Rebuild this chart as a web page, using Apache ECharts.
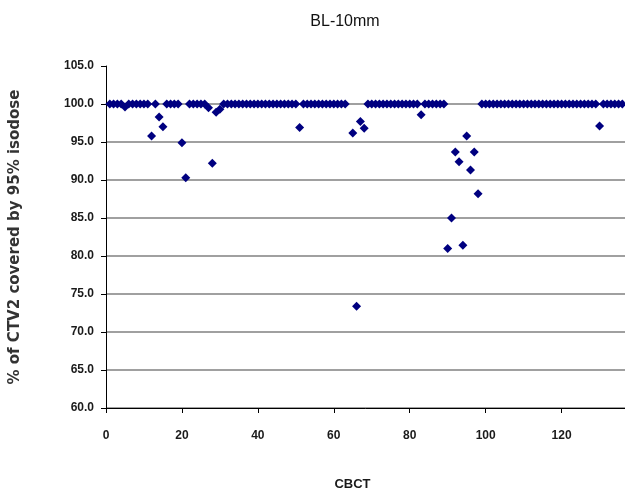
<!DOCTYPE html>
<html>
<head>
<meta charset="utf-8">
<script src="https://cdn.jsdelivr.net/npm/echarts@6/dist/echarts.min.js"></script>
<style>
html,body{margin:0;padding:0;background:#fff;}
#c{width:625px;height:488px;}
</style>
</head>
<body>
<div id="c"></div>
<script>
// CBCT fraction numbers (x) and % of CTV2 covered by 95% isodose (y)
const cbct = [
  1,2,3,4,5,6,7,8,9,10,11,12,13,14,15,16,17,18,19,20,
  21,22,23,24,25,26,27,28,29,30,31,32,33,34,35,36,37,38,39,40,
  41,42,43,44,45,46,47,48,49,50,51,52,53,54,55,56,57,58,59,60,
  61,62,63,65,66,67,68,69,70,71,72,73,74,75,76,77,78,79,80,
  81,82,83,84,85,86,87,88,89,90,91,92,93,94,95,96,97,98,99,100,
  101,102,103,104,105,106,107,108,109,110,111,112,113,114,115,116,117,118,119,120,
  121,122,123,124,125,126,127,128,129,130,131,132,133,134,135,136
];
const coverage = [
  100,100,100,100,99.6,100,100,100,100,100,100,95.8,100,98.3,97.0,100,100,100,100,94.9,
  90.3,100,100,100,100,100,99.5,92.2,98.9,99.3,100,100,100,100,100,100,100,100,100,100,
  100,100,100,100,100,100,100,100,100,100,96.9,100,100,100,100,100,100,100,100,100,
  100,100,100,96.2,73.4,97.7,96.8,100,100,100,100,100,100,100,100,100,100,100,100,
  100,100,98.6,100,100,100,100,100,100,81.0,85.0,93.7,92.4,81.4,95.8,91.3,93.7,88.2,100,100,
  100,100,100,100,100,100,100,100,100,100,100,100,100,100,100,100,100,100,100,100,
  100,100,100,100,100,100,100,100,100,97.1,100,100,100,100,100,100
];
const xTicks = [0, 20, 40, 60, 80, 100, 120];
const yTicks = [60, 65, 70, 75, 80, 85, 90, 95, 100, 105];

const points = cbct.map((x, i) => [x, coverage[i]]);

const chart = echarts.init(document.getElementById('c'), null, {renderer: 'canvas'});
const labelFont = {fontFamily: 'Liberation Sans, Arial, sans-serif', fontWeight: 'bold', fontSize: 12, color: '#1a1a1a'};
chart.setOption({
  animation: false,
  backgroundColor: '#ffffff',
  title: {
    text: 'BL-10mm',
    left: 340, top: 9, textAlign: 'center',
    textStyle: {fontFamily: 'Liberation Sans, Arial, sans-serif', fontWeight: 'normal', fontSize: 16, color: '#111'}
  },
  grid: {left: 106, right: 0, top: 66, bottom: 80, containLabel: false, outerBoundsMode: 'none'},
  xAxis: {
    type: 'value',
    min: xTicks[0], max: 136.7, interval: 20,
    name: 'CBCT', nameLocation: 'middle', nameGap: 70,
    nameTextStyle: Object.assign({}, labelFont, {fontSize: 13, padding: [0, 26, 0, 0]}),
    axisLine: {show: true, lineStyle: {color: '#000', width: 1}},
    axisTick: {show: true, length: 5, lineStyle: {color: '#000'}},
    axisLabel: Object.assign({}, labelFont, {
      margin: 22,
      formatter: v => xTicks.indexOf(v) >= 0 ? String(v) : ''
    }),
    splitLine: {show: false}
  },
  yAxis: {
    type: 'value',
    min: yTicks[0], max: yTicks[yTicks.length - 1], interval: 5,
    name: '% of CTV2 covered by 95% isodose', nameLocation: 'middle', nameGap: 83,
    nameTextStyle: {fontFamily: 'DejaVu Sans, sans-serif', fontWeight: 'bold', fontSize: 15, color: '#333'},
    axisLine: {show: true, lineStyle: {color: '#000', width: 1}},
    axisTick: {show: true, length: 5, lineStyle: {color: '#000'}},
    axisLabel: Object.assign({}, labelFont, {margin: 12, formatter: v => v.toFixed(1)}),
    splitLine: {show: true, showMaxLine: false, lineStyle: {color: '#808080', width: 1.5}}
  },
  series: [{
    type: 'scatter',
    data: points,
    symbol: 'diamond',
    symbolSize: 9,
    itemStyle: {color: '#000080', opacity: 1}
  }]
});
</script>
</body>
</html>
